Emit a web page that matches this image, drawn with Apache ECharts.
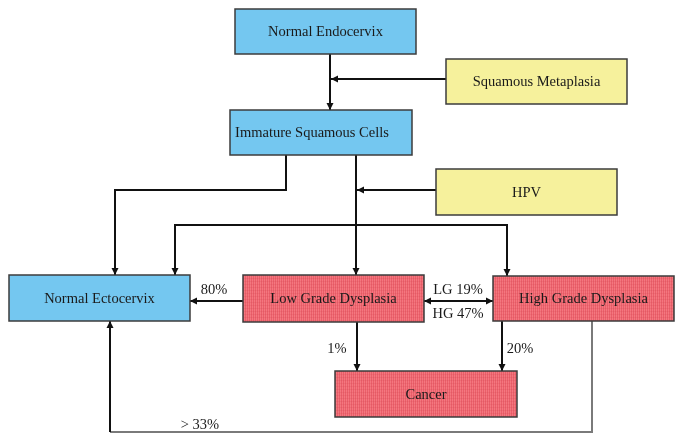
<!DOCTYPE html>
<html>
<head>
<meta charset="utf-8">
<script src="https://cdn.jsdelivr.net/npm/echarts@6/dist/echarts.min.js"></script>
<style>
  html, body { margin: 0; padding: 0; background: #fff; }
  #chart { width: 684px; height: 442px; }
</style>
</head>
<body>
<div id="chart"></div>
<script>
// boxes of the diagram, in diagram units (x right, y down)
const boxNames = [
  'Normal Endocervix', 'Immature Squamous Cells', 'Squamous Metaplasia', 'HPV',
  'Normal Ectocervix', 'Low Grade Dysplasia', 'High Grade Dysplasia', 'Cancer'
]
const boxRects = [
  [235, 9, 416, 54], [230, 110, 412, 155], [446, 59, 627, 104], [436, 169, 617, 215],
  [9, 275, 190, 321], [243, 275, 424, 322], [493, 276, 674, 321], [335, 371, 517, 417]
]
const boxKinds = ['tissue', 'tissue', 'factor', 'factor', 'tissue', 'lesion', 'lesion', 'lesion']

// connectors: polyline points, arrow at [start, end], kind
const edgePaths = [
  [[330, 54], [330, 110]],
  [[446, 79], [331, 79]],
  [[286, 155], [286, 190], [115, 190], [115, 275]],
  [[356, 155], [356, 275]],
  [[436, 190], [357, 190]],
  [[175, 275], [175, 225], [507, 225], [507, 276]],
  [[243, 301], [190, 301]],
  [[424, 301], [493, 301]],
  [[357, 322], [357, 371]],
  [[502, 321], [502, 371]],
  [[592, 321], [592, 432], [110, 432]],
  [[110, 432], [110, 321]]
]
const edgeArrows = [
  [false, true], [false, true], [false, true], [false, true], [false, true], [true, true],
  [false, true], [true, true], [false, true], [false, true], [false, false], [false, true]
]
const edgeKinds = ['main', 'main', 'main', 'main', 'main', 'main', 'main', 'main', 'main', 'main', 'return', 'main']

// transition percentages
const rateLabels = ['80%', 'LG 19%', 'HG 47%', '1%', '20%', '> 33%']
const ratePoints = [[214, 290], [458, 290], [458, 314], [337, 349], [520, 349], [200, 425]]

const chart = echarts.init(document.getElementById('chart'), null, { renderer: 'canvas' })

// striped fill of the red boxes
function stripePattern() {
  const c = document.createElement('canvas')
  c.width = 2
  c.height = 3
  const ctx = c.getContext('2d')
  ctx.fillStyle = '#f4777f'
  ctx.fillRect(0, 0, 2, 3)
  ctx.fillStyle = '#ea5f6a'
  ctx.fillRect(1, 0, 1, 3)
  ctx.fillStyle = 'rgba(200,60,70,0.15)'
  ctx.fillRect(0, 2, 2, 1)
  return { image: c, repeat: 'repeat' }
}
const lesionFill = stripePattern()
const kindFill = { tissue: '#74c7f0', factor: '#f6f19c', lesion: lesionFill }
const font = '14.5px "Liberation Serif", "DejaVu Serif", serif'

function arrowHead(tip, from, color) {
  const dx = tip[0] - from[0]
  const dy = tip[1] - from[1]
  const len = Math.sqrt(dx * dx + dy * dy) || 1
  const ux = dx / len
  const uy = dy / len
  const L = 7
  const W = 3.5
  return {
    type: 'polygon',
    shape: {
      points: [
        tip,
        [tip[0] - ux * L - uy * W, tip[1] - uy * L + ux * W],
        [tip[0] - ux * L + uy * W, tip[1] - uy * L - ux * W]
      ]
    },
    style: { fill: color }
  }
}

chart.setOption({
  animation: false,
  backgroundColor: '#fff',
  grid: { left: 0, right: 0, top: 0, bottom: 0 },
  xAxis: { type: 'value', min: 0, max: 684, show: false },
  yAxis: { type: 'value', min: 0, max: 442, inverse: true, show: false },
  series: [
    {
      type: 'custom',
      name: 'edges',
      clip: false,
      data: edgePaths.map((p, i) => [p[0][0], p[0][1], i]),
      renderItem: function(params, api) {
        const i = params.dataIndex
        const pts = edgePaths[i].map(p => api.coord(p))
        const color = edgeKinds[i] === 'return' ? '#7a7a7a' : '#111'
        const children = [{
          type: 'polyline',
          shape: { points: pts },
          style: { stroke: color, lineWidth: 2, fill: null }
        }]
        if (edgeArrows[i][0]) children.push(arrowHead(pts[0], pts[1], color))
        if (edgeArrows[i][1]) children.push(arrowHead(pts[pts.length - 1], pts[pts.length - 2], color))
        return { type: 'group', children: children }
      }
    },
    {
      type: 'custom',
      name: 'boxes',
      clip: false,
      data: boxRects.map((r, i) => [r[0], r[1], r[2], r[3], i]),
      renderItem: function(params, api) {
        const i = params.dataIndex
        const r = boxRects[i]
        const p0 = api.coord([r[0], r[1]])
        const p1 = api.coord([r[2], r[3]])
        // the long label sits a little left of centre in the original
        const shift = boxNames[i].length > 20 ? -9 : 0
        return {
          type: 'rect',
          shape: { x: p0[0], y: p0[1], width: p1[0] - p0[0], height: p1[1] - p0[1] },
          style: { fill: kindFill[boxKinds[i]], stroke: '#3c3c3c', lineWidth: 1.5 },
          textContent: {
            style: { text: boxNames[i], font: font, fill: '#1a1a1a' }
          },
          textConfig: { position: 'inside', offset: [shift, 1] }
        }
      }
    },
    {
      type: 'custom',
      name: 'rates',
      clip: false,
      data: ratePoints,
      renderItem: function(params, api) {
        const p = api.coord(ratePoints[params.dataIndex])
        return {
          type: 'text',
          x: p[0],
          y: p[1],
          style: {
            text: rateLabels[params.dataIndex],
            font: font,
            fill: '#1a1a1a',
            align: 'center',
            verticalAlign: 'middle'
          }
        }
      }
    }
  ]
})

window.addEventListener('resize', function() {
  chart.resize()
})
</script>
</body>
</html>
